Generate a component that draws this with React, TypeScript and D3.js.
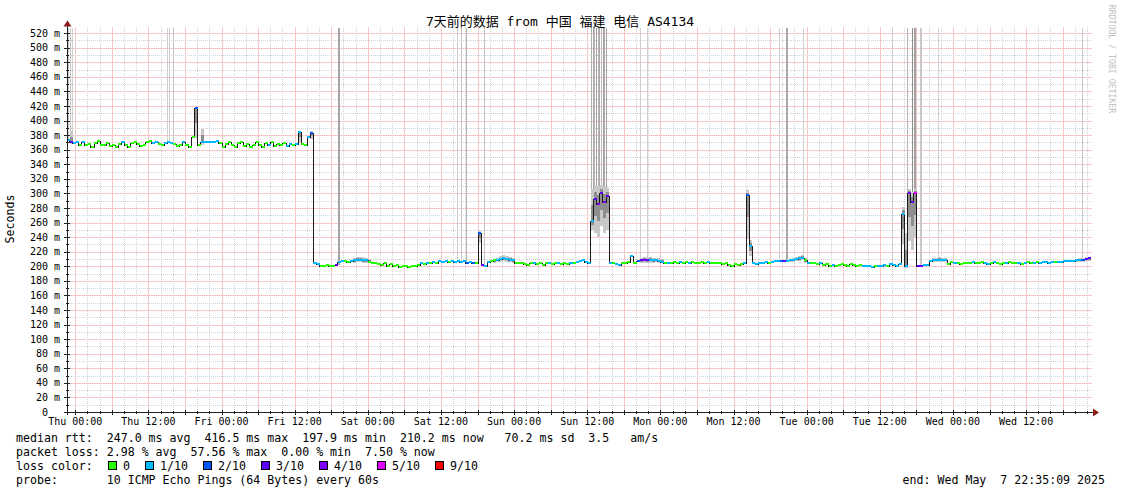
import React from 'react';
import * as d3 from 'd3';

// ---------- data ----------
const START_MS = Date.UTC(2025, 3, 30, 22, 35, 9);
const END_MS = Date.UTC(2025, 4, 7, 22, 35, 9);
const STEP_MS = 30 * 60 * 1000; // half-hour steps

// median rtt (ms) per half-hour step
const medianRtt: number[] = [
  373, 370, 369, 370, 367, 371, 366, 368, 364, 369, 372, 367,
  366, 369, 365, 367, 364, 368, 370, 366, 364, 369, 371, 368,
  365, 367, 370, 372, 369, 370, 368, 366, 369, 371, 369, 368,
  365, 367, 370, 366, 364, 378, 417, 366, 371, 371, 370, 371,
  370, 372, 369, 364, 368, 370, 366, 363, 369, 371, 365, 368,
  363, 367, 370, 366, 364, 369, 367, 371, 365, 368, 366, 369,
  365, 368, 366, 368, 384, 368, 367, 377, 383, 205, 203, 201,
  200, 202, 201, 201, 202, 206, 207, 207, 206, 207, 208, 209,
  209, 208, 208, 206, 205, 204, 203, 202, 204, 201, 203, 200,
  202, 199, 200, 201, 199, 200, 201, 202, 204, 203, 205, 204,
  206, 205, 207, 206, 207, 206, 207, 206, 207, 206, 207, 205,
  206, 205, 205, 245, 202, 201, 206, 207, 208, 209, 210, 211,
  210, 209, 208, 205, 204, 205, 203, 202, 204, 205, 203, 204,
  202, 204, 205, 203, 204, 205, 203, 204, 203, 205, 204, 206,
  207, 208, 206, 204, 262, 292, 285, 300, 288, 296, 205, 204,
  203, 202, 205, 205, 206, 214, 205, 207, 208, 209, 208, 209,
  208, 209, 207, 206, 205, 204, 205, 206, 205, 206, 205, 206,
  205, 206, 205, 204, 206, 205, 206, 205, 204, 205, 204, 203,
  204, 202, 201, 203, 202, 203, 204, 298, 228, 204, 203, 205,
  204, 206, 205, 206, 207, 207, 207, 207, 207, 208, 209, 210,
  211, 212, 208, 205, 204, 205, 203, 204, 202, 203, 201, 202,
  201, 202, 203, 202, 201, 203, 202, 201, 202, 200, 201, 200,
  199, 200, 201, 200, 202, 201, 203, 202, 201, 203, 272, 200,
  300, 288, 300, 201, 201, 202, 202, 207, 208, 208, 209, 208,
  209, 203, 206, 204, 205, 203, 205, 204, 205, 206, 205, 204,
  206, 205, 203, 204, 206, 205, 203, 205, 204, 206, 205, 204,
  205, 203, 204, 206, 205, 204, 206, 205, 206, 206, 205, 206,
  206, 206, 206, 207, 207, 207, 207, 208, 208, 209, 210, 211,
];

// packet loss in tenths per step
const lossTenths: number[] = [
  1, 3, 1, 1, 0, 1, 0, 0, 0, 0, 0, 0,
  0, 0, 0, 0, 0, 0, 1, 0, 0, 0, 0, 0,
  0, 0, 0, 0, 1, 1, 0, 0, 1, 1, 1, 0,
  0, 0, 1, 0, 0, 0, 2, 0, 1, 1, 1, 1,
  1, 1, 0, 0, 0, 0, 0, 0, 0, 0, 0, 0,
  0, 0, 0, 0, 0, 0, 1, 0, 0, 0, 0, 0,
  1, 1, 0, 1, 1, 0, 0, 1, 2, 1, 1, 0,
  0, 0, 0, 0, 3, 1, 1, 0, 0, 1, 1, 1,
  1, 1, 1, 0, 0, 0, 0, 0, 0, 0, 0, 0,
  0, 0, 0, 0, 0, 0, 0, 0, 1, 0, 1, 0,
  1, 0, 1, 1, 1, 0, 1, 1, 1, 1, 1, 2,
  1, 2, 0, 2, 3, 1, 1, 0, 0, 1, 1, 1,
  1, 1, 1, 0, 0, 0, 0, 0, 0, 1, 0, 0,
  0, 0, 1, 0, 0, 1, 0, 0, 0, 1, 0, 1,
  1, 1, 1, 1, 1, 3, 4, 3, 4, 3, 1, 0,
  1, 1, 0, 0, 0, 1, 0, 2, 3, 4, 3, 1,
  1, 1, 1, 1, 0, 1, 0, 0, 0, 1, 0, 0,
  1, 0, 0, 0, 0, 0, 1, 0, 0, 0, 0, 0,
  0, 0, 0, 0, 0, 0, 1, 2, 1, 1, 1, 1,
  1, 1, 0, 1, 1, 1, 2, 3, 1, 1, 1, 1,
  1, 1, 0, 1, 0, 0, 0, 1, 0, 0, 0, 1,
  0, 0, 0, 0, 0, 0, 0, 0, 0, 1, 1, 1,
  1, 0, 1, 1, 1, 0, 1, 1, 1, 1, 1, 1,
  4, 3, 5, 3, 3, 1, 1, 1, 1, 1, 1, 1,
  1, 0, 0, 1, 0, 0, 0, 0, 0, 1, 0, 0,
  0, 1, 1, 0, 1, 0, 0, 0, 1, 0, 0, 0,
  1, 0, 1, 0, 0, 1, 0, 1, 1, 1, 1, 1,
  0, 1, 1, 1, 1, 1, 1, 1, 1, 2, 3, 3,
];

// smoke (ping spread) where visible
const smokeStep: number[] = [
  1, 42, 44, 76, 80,
  94, 95, 96, 97, 98, 99,
  135,
  140, 141, 142, 143, 144, 145, 146,
  172, 173, 174, 175, 176, 177,
  188, 189, 190, 191, 192, 193, 194, 195,
  223, 224,
  237, 238, 239, 240, 241, 242,
  274, 275, 276, 277, 278,
  284, 285, 286, 287, 288,
  331, 332, 333, 334, 335,
];
const smokeLow: number[] = [
  368, 376, 367, 370, 374,
  205, 206, 206, 205, 205, 204,
  232,
  205, 206, 206, 207, 206, 206, 205,
  250, 245, 240, 255, 245, 250,
  205, 205, 205, 205, 205, 206, 204, 204,
  238, 214,
  206, 206, 207, 207, 208, 205,
  230, 198, 235, 222, 240,
  206, 206, 206, 206, 206,
  206, 206, 206, 207, 207,
];
const smokeHigh: number[] = [
  386, 419, 388, 386, 386,
  211, 213, 213, 213, 212, 210,
  249,
  210, 212, 214, 215, 214, 213, 211,
  306, 312, 310, 312, 310, 308,
  211, 213, 213, 213, 212, 212, 211, 210,
  304, 236,
  210, 212, 213, 214, 215, 211,
  282, 246, 306, 302, 306,
  211, 212, 213, 212, 212,
  210, 211, 212, 213, 213,
];

// pings beyond the top of the graph (fractional step position)
const tallSmokeAt: number[] = [
  0.5, 1.1, 1.7,
  32.8, 33.5, 34.8,
  88.9,
  128.1, 129.3, 131.1, 137.0,
  172.2, 172.7, 173.2, 173.8, 174.3, 174.8, 175.4, 175.9, 176.4, 176.9,
  188.0, 190.3,
  233.6, 236.2, 241.5,
  270.7, 275.9, 277.3, 278.0, 280.1, 285.8,
  333.3,
];
const tallSmokeWidth: number[] = [
  1, 1, 1,
  1, 1, 1,
  2,
  1, 1, 1, 1,
  1, 1, 1, 1, 1, 1, 1, 1, 1, 1,
  1, 1,
  1, 2, 1,
  1, 1, 1, 2, 2, 1,
  1,
];
const tallSmokeShade: string[] = [
  '#cfcfcf', '#c4c4c4', '#cfcfcf',
  '#cfcfcf', '#cfcfcf', '#c4c4c4',
  '#a6a6a6',
  '#cfcfcf', '#c4c4c4', '#b4b4b4', '#c4c4c4',
  '#b0b0b0', '#a4a4a4', '#bcbcbc', '#a0a0a0', '#b4b4b4', '#a8a8a8', '#bcbcbc', '#a0a0a0', '#b0b0b0', '#a4a4a4',
  '#cfcfcf', '#cfcfcf',
  '#cfcfcf', '#a8a8a8', '#cfcfcf',
  '#cfcfcf', '#b4b4b4', '#8c8c8c', '#a0a0a0', '#c8c8c8', '#d0d0d0',
  '#c8c8c8',
];

const xTickLabels: string[] = [
  'Thu 00:00', 'Thu 12:00', 'Fri 00:00', 'Fri 12:00', 'Sat 00:00', 'Sat 12:00', 'Sun 00:00',
  'Sun 12:00', 'Mon 00:00', 'Mon 12:00', 'Tue 00:00', 'Tue 12:00', 'Wed 00:00', 'Wed 12:00',
];
const FIRST_LABEL_MS = Date.UTC(2025, 4, 1, 0, 0, 0);

const yTickValues: number[] = [0, 20, 40, 60, 80, 100, 120, 140, 160, 180, 200, 220, 240, 260, 280, 300, 320, 340, 360, 380, 400, 420, 440, 460, 480, 500, 520];
const yTickLabels: string[] = ['0  ', '20 m', '40 m', '60 m', '80 m', '100 m', '120 m', '140 m', '160 m', '180 m', '200 m', '220 m', '240 m', '260 m', '280 m', '300 m', '320 m', '340 m', '360 m', '380 m', '400 m', '420 m', '440 m', '460 m', '480 m', '500 m', '520 m'];
const yMinorValues: number[] = [10, 30, 50, 70, 90, 110, 130, 150, 170, 190, 210, 230, 250, 270, 290, 310, 330, 350, 370, 390, 410, 430, 450, 470, 490, 510];

const lossLegendLabels: string[] = ['0', '1/10', '2/10', '3/10', '4/10', '5/10', '9/10'];
const lossLegendColors: string[] = ['#26ff00', '#00b8ff', '#0059ff', '#5e00ff', '#7e00ff', '#dd00ff', '#ff0000'];
const lossColorByTenths: string[] = ['#26ff00', '#00b8ff', '#0059ff', '#5e00ff', '#7e00ff', '#dd00ff', '#ff0000', '#ff0000', '#ff0000', '#ff0000', '#ff0000'];

const titleText = '7天前的数据 from 中国 福建 电信 AS4134';
const legendLine1 = 'median rtt:  247.0 ms avg  416.5 ms max  197.9 ms min  210.2 ms now   70.2 ms sd  3.5   am/s';
const legendLine2 = 'packet loss: 2.98 % avg  57.56 % max  0.00 % min  7.50 % now';
const legendLine3 = 'loss color:';
const legendLine4 = 'probe:       10 ICMP Echo Pings (64 Bytes) every 60s';
const endText = 'end: Wed May  7 22:35:09 2025';

// ---------- component ----------
const MONO = "'DejaVu Sans Mono', 'Liberation Mono', monospace";

export default function App() {
  const LEFT = 67, RIGHT = 1092, TOP = 27, BOTTOM = 412;
  const x = d3.scaleUtc().domain([new Date(START_MS), new Date(END_MS)]).range([66.6, 1090.6]);
  const y = d3.scaleLinear().domain([0, 527]).range([BOTTOM, 28]);
  const tAt = (i: number) => new Date(START_MS + i * STEP_MS);
  const xs = (i: number) => x(tAt(i));

  const hours2 = d3.utcHour.every(2)!.range(new Date(START_MS), new Date(END_MS));
  const vMajor = hours2.filter(d => d.getUTCHours() % 6 === 0);
  const vMinor = hours2.filter(d => d.getUTCHours() % 6 !== 0);

  const pts: [Date, number][] = medianRtt.map((v, i) => [tAt(i), v] as [Date, number]);
  pts.push([new Date(END_MS), medianRtt[medianRtt.length - 1]]);
  const linePath = d3.line<[Date, number]>()
    .x(d => x(d[0]))
    .y(d => Math.round(y(d[1])) + 0.5)
    .curve(d3.curveStepAfter)(pts) || '';

  const px = (v: number) => Math.round(v) + 0.5;

  // legend boxes layout
  const charW = 7.0;
  let bx = 108;
  const boxes = lossLegendLabels.map((lab, k) => {
    const item = { bx, lx: bx + 15, lab, color: lossLegendColors[k] };
    bx = item.lx + lab.length * charW + 15;
    return item;
  });

  const RED = '#f7c6c6';
  const GRAY = '#d2d2d2';

  return (
    <svg width={1121} height={494} style={{ position: 'absolute', left: 0, top: 0, background: '#fff' }}
      xmlns="http://www.w3.org/2000/svg">
      <rect x={0} y={0} width={1121} height={494} fill="#ffffff" />

      {/* grid */}
      <g shapeRendering="crispEdges">
        {yMinorValues.map(v => (
          <line key={'hm' + v} x1={LEFT} x2={RIGHT} y1={px(y(v))} y2={px(y(v))} stroke={GRAY} strokeWidth={1} strokeDasharray="1,1" />
        ))}
        {vMinor.map(d => (
          <line key={'vm' + d.getTime()} x1={px(x(d))} x2={px(x(d))} y1={TOP} y2={BOTTOM} stroke={GRAY} strokeWidth={1} strokeDasharray="1,1" />
        ))}
        {yTickValues.filter(v => v > 0).map(v => (
          <line key={'hM' + v} x1={LEFT} x2={RIGHT} y1={px(y(v))} y2={px(y(v))} stroke={RED} strokeWidth={1} />
        ))}
        {vMajor.map(d => (
          <line key={'vM' + d.getTime()} x1={px(x(d))} x2={px(x(d))} y1={TOP} y2={BOTTOM} stroke={RED} strokeWidth={1} />
        ))}
      </g>

      {/* tall smoke (pings above top) */}
      <g shapeRendering="crispEdges">
        {tallSmokeAt.map((s, k) => {
          const i = Math.min(medianRtt.length - 1, Math.floor(s));
          const xx = Math.round(xs(s));
          return (
            <rect key={'ts' + k} x={xx} y={TOP + 1} width={tallSmokeWidth[k]}
              height={Math.max(0, y(medianRtt[i]) - TOP - 1)} fill={tallSmokeShade[k]} />
          );
        })}
      </g>

      {/* smoke bands */}
      <g shapeRendering="crispEdges">
        {smokeStep.map((i, k) => {
          const x0 = Math.round(xs(i));
          const x1 = Math.round(xs(i + 1));
          const m = medianRtt[i];
          const hi = smokeHigh[k], lo = smokeLow[k];
          const ihi = (hi + m) / 2, ilo = (lo + m) / 2;
          return (
            <g key={'sm' + k}>
              <rect x={x0} width={x1 - x0} y={y(hi)} height={y(lo) - y(hi)} fill="#c8c8c8" />
              <rect x={x0} width={x1 - x0} y={y(ihi)} height={y(ilo) - y(ihi)} fill="#8e8e8e" />
            </g>
          );
        })}
      </g>

      {/* median line */}
      <path d={linePath} fill="none" stroke="#1a1a1a" strokeWidth={1} shapeRendering="crispEdges" />
      <g shapeRendering="crispEdges">
        {medianRtt.map((v, i) => {
          const x0 = Math.round(xs(i));
          const x1 = Math.round(xs(i + 1));
          return (
            <rect key={'lc' + i} x={x0} width={Math.max(1, x1 - x0)} y={Math.round(y(v)) - 1} height={2}
              fill={lossColorByTenths[lossTenths[i]]} />
          );
        })}
      </g>

      {/* axes */}
      <g shapeRendering="crispEdges" stroke="#222">
        <line x1={64} x2={1093} y1={BOTTOM + 0.5} y2={BOTTOM + 0.5} />
        <line x1={LEFT + 0.5} x2={LEFT + 0.5} y1={BOTTOM + 3} y2={26} />
        {yTickValues.map(v => (
          <line key={'yt' + v} x1={LEFT - 3} x2={LEFT + 3} y1={px(y(v))} y2={px(y(v))} />
        ))}
        {yMinorValues.map(v => (
          <line key={'ytm' + v} x1={LEFT - 1} x2={LEFT + 2} y1={px(y(v))} y2={px(y(v))} />
        ))}
        {vMajor.map(d => (
          <line key={'xt' + d.getTime()} x1={px(x(d))} x2={px(x(d))} y1={BOTTOM - 2} y2={BOTTOM + 3} />
        ))}
        {vMinor.map(d => (
          <line key={'xtm' + d.getTime()} x1={px(x(d))} x2={px(x(d))} y1={BOTTOM - 1} y2={BOTTOM + 2} />
        ))}
      </g>
      <path d="M63.5,26.5 L67.5,20.5 L71.5,26.5 Z" fill="#8b1a1a" />
      <path d="M1093,408.5 L1099,412.5 L1093,416.5 Z" fill="#8b1a1a" />

      {/* tick labels */}
      <g fontFamily={MONO} fontSize={10} fill="#000">
        {yTickValues.map((v, k) => (
          <text key={'yl' + v} x={60} y={y(v) + 3.6} textAnchor="end" xmlSpace="preserve" style={{ whiteSpace: 'pre' }}>
            {yTickLabels[k]}
          </text>
        ))}
        {xTickLabels.map((lab, k) => (
          <text key={'xl' + k} x={x(new Date(FIRST_LABEL_MS + k * 12 * 3600 * 1000))} y={425} textAnchor="middle">
            {lab}
          </text>
        ))}
      </g>

      {/* title */}
      <text x={560} y={26} textAnchor="middle" fontFamily={"'DejaVu Sans Mono', 'Noto Sans CJK SC', monospace"} fontSize={13} fill="#000">
        {titleText}
      </text>

      {/* y axis title */}
      <text transform="translate(14,219) rotate(-90)" textAnchor="middle" fontFamily={MONO} fontSize={11.6} fill="#000">
        Seconds
      </text>

      {/* watermark */}
      <text transform="translate(1108.5,59) rotate(90)" textAnchor="middle" fontFamily={MONO} fontSize={8.2} fill="#c0c0c0">
        RRDTOOL / TOBI OETIKER
      </text>

      {/* legend */}
      <g fontFamily={MONO} fontSize={11.6} fill="#000">
        <text x={16} y={442} xmlSpace="preserve" style={{ whiteSpace: 'pre' }}>{legendLine1}</text>
        <text x={16} y={456} xmlSpace="preserve" style={{ whiteSpace: 'pre' }}>{legendLine2}</text>
        <text x={16} y={470} xmlSpace="preserve" style={{ whiteSpace: 'pre' }}>{legendLine3}</text>
        {boxes.map((b, k) => (
          <g key={'lb' + k}>
            <rect x={b.bx + 0.5} y={461.5} width={8} height={8} fill={b.color} stroke="#000" strokeWidth={1} shapeRendering="crispEdges" />
            <text x={b.lx} y={470}>{b.lab}</text>
          </g>
        ))}
        <text x={16} y={484} xmlSpace="preserve" style={{ whiteSpace: 'pre' }}>{legendLine4}</text>
        <text x={1105} y={484} textAnchor="end" xmlSpace="preserve" style={{ whiteSpace: 'pre' }}>{endText}</text>
      </g>
    </svg>
  );
}
